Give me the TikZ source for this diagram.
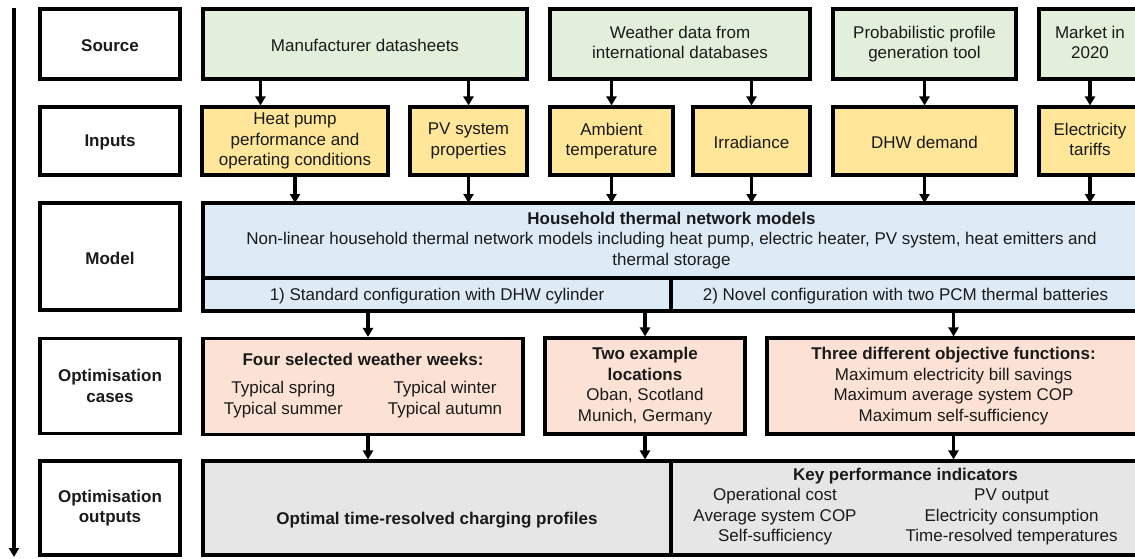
\documentclass[tikz,border=0pt]{standalone}
\usepackage{fontspec}
\setmainfont{Liberation Sans}
\usetikzlibrary{arrows.meta, positioning}

\definecolor{srcgreen}{HTML}{E2EFDA}
\definecolor{inpyellow}{HTML}{FFE699}
\definecolor{mdlblue}{HTML}{DDEBF7}
\definecolor{csepeach}{HTML}{FBE2D5}
\definecolor{outgray}{HTML}{E7E6E6}
\definecolor{txtgray}{HTML}{1A1A1A}

\newcommand{\topstrut}{\rule{0pt}{15.4pt}}
\newcommand{\lowstrut}{\rule{0pt}{20.4pt}}
\newcommand{\botstrut}{\rule[-3.6pt]{0pt}{3.6pt}}

\begin{document}
\begin{tikzpicture}[x=1pt, y=-1pt, line width=3.1pt, >={Triangle[length=9pt, width=10pt]},
    font=\fontsize{17}{20.5}\selectfont]
        \tikzstyle{box}=[draw, rectangle, align=center, inner sep=2pt, text=txtgray,
            execute at begin node=\topstrut];
        \tikzstyle{lowtxt}=[execute at begin node=\lowstrut];
        \tikzstyle{lbl}=[box, fill=white, minimum width=140, font=\fontsize{17}{20.5}\selectfont\bfseries];
        \tikzstyle{src}=[box, fill=srcgreen, minimum height=70];
        \tikzstyle{inp}=[box, fill=inpyellow, minimum height=68];
        \tikzstyle{mdl}=[box, fill=mdlblue, outer sep=0pt];
        \tikzstyle{cse}=[box, fill=csepeach, minimum height=96];
        \tikzstyle{outp}=[box, fill=outgray, minimum height=94];

        \useasboundingbox (0,0) rectangle (1135,558);

        % row labels
        \node[lbl, minimum height=70] (lsource) at (110,44) {Source};
        \node[lbl, minimum height=68] (linputs) at (110,141) {Inputs};
        \node[lbl, minimum height=107] (lmodel) at (110,256.5) {Model};
        \node[lbl, minimum height=95] (lcases) at (110,386) {Optimisation\\cases};
        \node[lbl, minimum height=94] (loutputs) at (110,508) {Optimisation\\outputs};

        % sources
        \node[src, minimum width=324] (manuf) at (365,44) {Manufacturer datasheets};
        \node[src, minimum width=260] (weather) at (680,44) {Weather data from\\international databases\botstrut};
        \node[src, minimum width=183] (probtool) at (924.5,44) {Probabilistic profile\\generation tool};
        \node[src, minimum width=102] (market) at (1090,44) {Market in\\2020\botstrut};

        % inputs
        \node[inp, minimum width=186] (hpump) at (295,141) {Heat pump\\performance and\\operating conditions};
        \node[inp, minimum width=117] (pvsys) at (468.5,141) {PV system\\properties};
        \node[inp, minimum width=123] (ambient) at (611.5,141) {Ambient\\temperature};
        \node[inp, minimum width=117] (irrad) at (751.5,141) {Irradiance};
        \node[inp, minimum width=183] (dhw) at (924.5,141) {DHW demand};
        \node[inp, minimum width=102] (tariffs) at (1090,141) {Electricity\\tariffs\botstrut};

        % model
        \node[mdl, minimum width=937, minimum height=75] (model) at (671.5,240.5)
            {\textbf{Household thermal network models}\\Non-linear household thermal network models including heat pump, electric heater, PV system, heat emitters and\\thermal storage};
        \node[mdl, minimum width=468, minimum height=33, anchor=north west] (stdcfg) at (model.south west)
            {1) Standard configuration with DHW cylinder};
        \node[mdl, minimum width=469, minimum height=33, anchor=north east] (novcfg) at (model.south east)
            {2) Novel configuration with two PCM thermal batteries};

        % optimisation cases
        \node[cse, minimum width=320] (weeks) at (363,386.5)
            {\textbf{Four selected weather weeks:}\\[8pt]\begin{tabular}[t]{@{}c@{\hspace{45pt}}c@{}}Typical spring & Typical winter\\Typical summer & Typical autumn\end{tabular}};
        \node[cse, lowtxt, minimum width=200] (locs) at (645,386)
            {\textbf{Two example}\\\textbf{locations}\\Oban, Scotland\\Munich, Germany};
        \node[cse, lowtxt, minimum width=373] (objfun) at (953.5,386)
            {\textbf{Three different objective functions:}\\Maximum electricity bill savings\\Maximum average system COP\\Maximum self-sufficiency};

        % optimisation outputs
        \node[outp, minimum width=468, text height=35pt, text depth=3pt] (profiles) at (437,508)
            {\textbf{Optimal time-resolved charging profiles}};
        \node[outp, lowtxt, minimum width=469] (kpis) at (905.5,508)
            {\textbf{Key performance indicators}\\\begin{tabular}[t]{@{}c@{\hspace{49pt}}c@{}}Operational cost & PV output\\Average system COP & Electricity consumption\\Self-sufficiency & Time-resolved temperatures\end{tabular}};

        \coordinate (hpin) at ([xshift=60pt]hpump.north west);
        \coordinate (wkin) at ([xshift=5pt]weeks.north);
        \coordinate (wkout) at ([xshift=5pt]weeks.south);
        \coordinate (flowtop) at (14,8);
        \coordinate (flowend) at (14,557);

        \path[->]
        (flowtop) edge (flowend)
        (manuf.south -| hpin) edge (hpin)
        (manuf.south -| pvsys.north) edge (pvsys.north)
        (weather.south -| ambient.north) edge (ambient.north)
        (weather.south -| irrad.north) edge (irrad.north)
        (probtool.south) edge (dhw.north)
        (market.south) edge (tariffs.north)
        (hpump.south) edge (hpump.south |- model.north)
        (pvsys.south) edge (pvsys.south |- model.north)
        (ambient.south) edge (ambient.south |- model.north)
        (irrad.south) edge (irrad.south |- model.north)
        (dhw.south) edge (dhw.south |- model.north)
        (tariffs.south) edge (tariffs.south |- model.north)
        (stdcfg.south -| wkin) edge (wkin)
        (stdcfg.south -| locs.north) edge (locs.north)
        (novcfg.south -| objfun.north) edge (objfun.north)
        (wkout) edge (wkout |- profiles.north)
        (locs.south) edge (locs.south |- profiles.north)
        (objfun.south) edge (objfun.south |- kpis.north);
      \end{tikzpicture}
\end{document}
